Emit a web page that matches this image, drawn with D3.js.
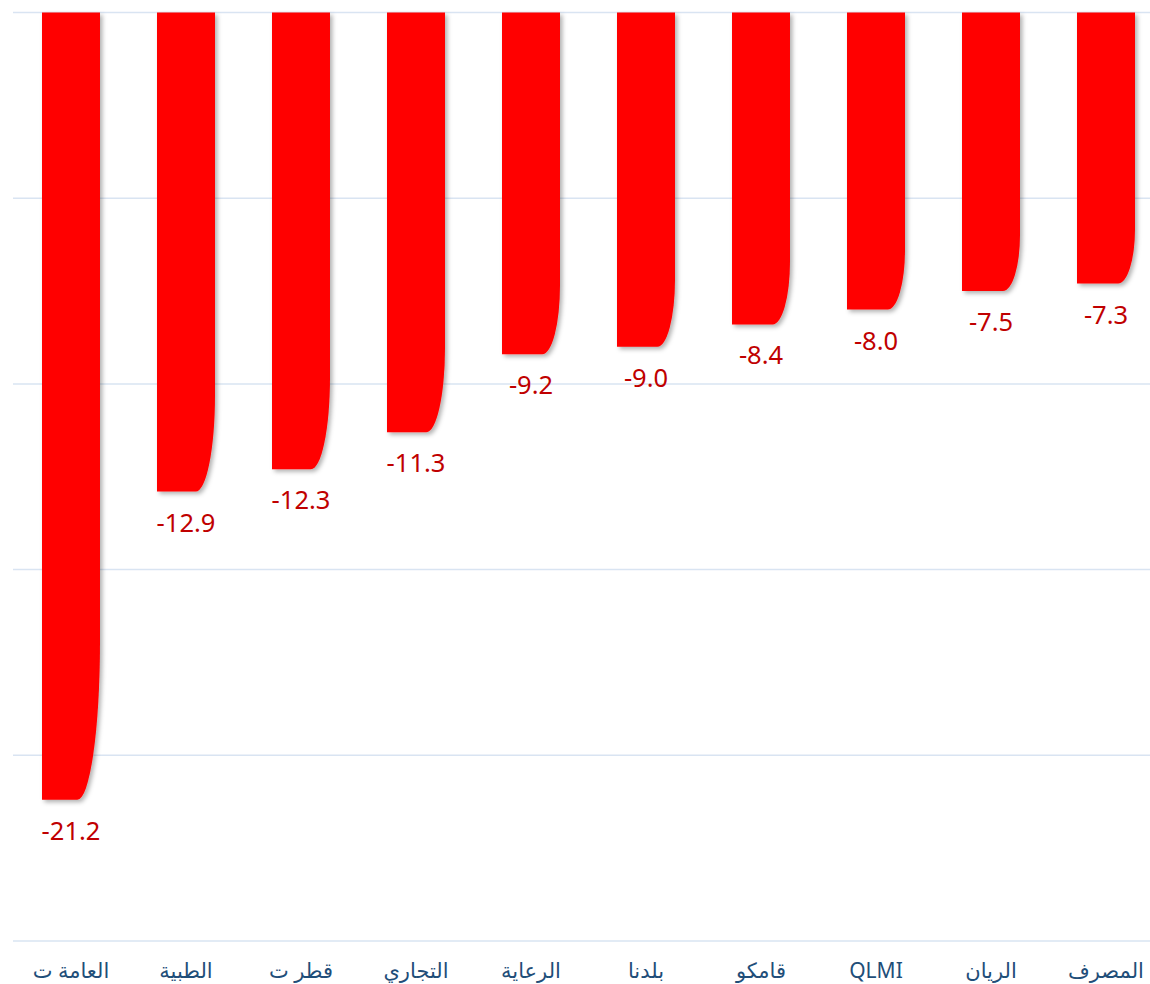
<!DOCTYPE html>
<html>
<head>
<meta charset="utf-8">
<script src="https://cdn.jsdelivr.net/npm/d3@7/dist/d3.min.js"></script>
<style>
  html, body { margin: 0; padding: 0; background: #ffffff; }
  svg { display: block; }
</style>
</head>
<body>
<svg id="chart" width="1150" height="984"></svg>
<script>
const categories = ["العامة ت", "الطبية", "قطر ت", "التجاري", "الرعاية", "بلدنا", "قامكو", "QLMI", "الريان", "المصرف"];
const values = [-21.2, -12.9, -12.3, -11.3, -9.2, -9.0, -8.4, -8.0, -7.5, -7.3];
const gridTicks = [0, -5, -10, -15, -20, -25];

const W = 1150, H = 984;
const svg = d3.select("#chart");

const x = d3.scaleBand()
  .domain(categories)
  .range([13.5, 1163.5])
  .paddingInner(0.4957)
  .paddingOuter(0.2478);

const y = d3.scaleLinear().domain([0, -25]).range([12.5, 941]);

// shadow filter
const defs = svg.append("defs");
const f = defs.append("filter").attr("id", "shadow")
  .attr("x", "-20%").attr("y", "-5%").attr("width", "150%").attr("height", "115%");
f.append("feDropShadow").attr("dx", 2.5).attr("dy", 2.5).attr("stdDeviation", 2)
  .attr("flood-color", "#000").attr("flood-opacity", 0.3);

// gridlines
svg.append("g").selectAll("line").data(gridTicks).join("line")
  .attr("x1", 13).attr("x2", W)
  .attr("y1", d => y(d)).attr("y2", d => y(d))
  .attr("stroke", "#d9e4f2").attr("stroke-width", 1.5);

// bars with curved bottom-right
function barPath(d, i) {
  const x0 = x(categories[i]);
  const w = x.bandwidth();
  const y0 = y(0), y1 = y(d);
  const h = y1 - y0;
  const ch = Math.max(40, h * 0.2);
  const cw = 14 + h * 0.011;
  return `M${x0},${y0} L${x0 + w},${y0} L${x0 + w},${y1 - ch} ` +
         `A${cw},${ch} 0 0 1 ${x0 + w - cw},${y1} L${x0},${y1} Z`;
}

svg.append("g").selectAll("path").data(values).join("path")
  .attr("d", (d, i) => barPath(d, i))
  .attr("fill", "#ff0000")
  .attr("filter", "url(#shadow)");

// value labels
svg.append("g").selectAll("text").data(values).join("text")
  .attr("x", (d, i) => x(categories[i]) + x.bandwidth() / 2)
  .attr("y", d => y(d) + 40)
  .attr("text-anchor", "middle")
  .attr("font-family", "'Noto Sans', 'Open Sans', sans-serif")
  .attr("font-size", 25.5)
  .attr("fill", "#c00000")
  .text(d => d.toFixed(1));

// category labels
svg.append("g").selectAll("text").data(categories).join("text")
  .attr("x", d => x(d) + x.bandwidth() / 2)
  .attr("y", 978)
  .attr("text-anchor", "middle")
  .attr("font-family", "'Noto Sans', 'DejaVu Sans', sans-serif")
  .attr("font-size", 21)
  .attr("fill", "#1f4e79")
  .text(d => d);
</script>
</body>
</html>
